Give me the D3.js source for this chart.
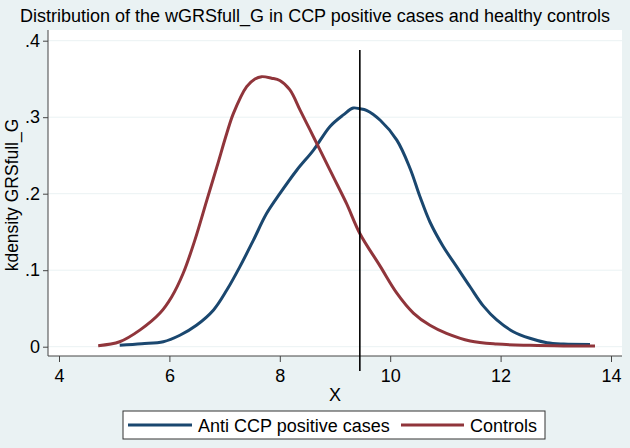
<!DOCTYPE html>
<html><head><meta charset="utf-8">
<script src="https://cdn.jsdelivr.net/npm/d3@7"></script>
<style>
html,body{margin:0;padding:0;background:#eaf2f3;}
text{font-family:"Liberation Sans",Arial,Helvetica,sans-serif;fill:#000;}
</style></head>
<body><svg id="c" width="630" height="448"></svg>
<script>
const title = "Distribution of the wGRSfull_G in CCP positive cases and healthy controls";
const yLabel = "kdensity GRSfull_G";
const xLabel = "X";
const seriesNames = ["Anti CCP positive cases", "Controls"];
const xTicks = [4, 6, 8, 10, 12, 14];
const yTicks = [0, 0.1, 0.2, 0.3, 0.4];
const yTickLabels = ["0", ".1", ".2", ".3", ".4"];
const xLineValue = 9.45;

const casesX = [5.1,5.5,5.89,6.19,6.49,6.8,7.04,7.28,7.52,7.76,8.0,8.31,8.61,8.91,9.15,9.33,9.45,9.57,9.82,10.12,10.36,10.54,10.72,10.96,11.2,11.45,11.69,11.93,12.23,12.53,12.84,13.14,13.62];
const casesY = [0.002,0.004,0.0065,0.015,0.028,0.048,0.074,0.105,0.139,0.174,0.2,0.231,0.257,0.288,0.303,0.312,0.311,0.309,0.296,0.27,0.233,0.196,0.163,0.131,0.105,0.078,0.053,0.035,0.0196,0.011,0.0052,0.0035,0.003];
const controlsX = [4.71,5.1,5.47,5.83,6.04,6.25,6.46,6.68,6.86,7.04,7.16,7.4,7.55,7.67,7.85,8.0,8.18,8.37,8.55,8.73,8.97,9.21,9.45,9.82,10.12,10.42,10.72,11.02,11.45,11.93,12.53,13.14,13.71];
const controlsY = [0.0013,0.0065,0.022,0.044,0.065,0.096,0.139,0.192,0.235,0.279,0.305,0.34,0.35,0.353,0.351,0.348,0.336,0.309,0.283,0.257,0.222,0.187,0.148,0.105,0.07,0.044,0.028,0.0175,0.0075,0.0035,0.0018,0.001,0.0009];

const colors = ["#1a476f", "#90353b"];
const svg = d3.select("#c");
const plot = {left: 48, right: 622, top: 30, bottom: 356};
const x = d3.scaleLinear().domain([4, 14]).range([59, 611]);
const y = d3.scaleLinear().domain([0, 0.4]).range([346.7, 40.7]);

svg.append("rect").attr("width", 630).attr("height", 448).attr("fill", "#eaf2f3");
svg.append("rect").attr("x", plot.left).attr("y", plot.top)
  .attr("width", plot.right - plot.left).attr("height", plot.bottom - plot.top).attr("fill", "#fff");

// gridlines
svg.append("g").selectAll("line").data(yTicks).join("line")
  .attr("x1", plot.left).attr("x2", plot.right)
  .attr("y1", d => y(d)).attr("y2", d => y(d))
  .attr("stroke", "#eaf2f3").attr("stroke-width", 1);

// axes
const yAxis = d3.axisLeft(y).tickValues(yTicks).tickSize(5).tickPadding(3)
  .tickFormat((d, i) => yTickLabels[i]);
const gy = svg.append("g").attr("transform", `translate(${plot.left},0)`).call(yAxis);
gy.select(".domain").attr("d", `M0,${plot.top}V${plot.bottom}`).attr("stroke", "#444");
gy.selectAll(".tick line").attr("stroke", "#444");
gy.selectAll(".tick text").attr("font-size", 18).attr("font-family", "Liberation Sans, Arial, sans-serif");

const xAxis = d3.axisBottom(x).tickValues(xTicks).tickSize(6).tickPadding(7).tickFormat(d3.format("d"));
const gx = svg.append("g").attr("transform", `translate(0,${plot.bottom})`).call(xAxis);
gx.select(".domain").attr("d", `M${plot.left},0H${plot.right}`).attr("stroke", "#444");
gx.selectAll(".tick line").attr("stroke", "#444");
gx.selectAll(".tick text").attr("font-size", 18).attr("font-family", "Liberation Sans, Arial, sans-serif");

// curves
const line = d3.line().x(d => x(d[0])).y(d => y(d[1])).curve(d3.curveCatmullRom.alpha(0.5));
const casesData = casesX.map((v, i) => [v, casesY[i]]);
const controlsData = controlsX.map((v, i) => [v, controlsY[i]]);
svg.append("path").datum(casesData).attr("d", line).attr("fill", "none")
  .attr("stroke", colors[0]).attr("stroke-width", 3).attr("stroke-linejoin", "round");
svg.append("path").datum(controlsData).attr("d", line).attr("fill", "none")
  .attr("stroke", colors[1]).attr("stroke-width", 3).attr("stroke-linejoin", "round");

// vertical line
svg.append("line").attr("x1", x(xLineValue)).attr("x2", x(xLineValue))
  .attr("y1", 50).attr("y2", 371).attr("stroke", "#000").attr("stroke-width", 1.6);

// title and labels
svg.append("text").attr("x", 315).attr("y", 22).attr("text-anchor", "middle")
  .attr("font-size", 18).text(title);
svg.append("text").attr("transform", "translate(18,195) rotate(-90)").attr("text-anchor", "middle")
  .attr("font-size", 17.5).text(yLabel);
svg.append("text").attr("x", (plot.left + plot.right) / 2).attr("y", 401).attr("text-anchor", "middle")
  .attr("font-size", 18).text(xLabel);

// legend
const lg = svg.append("g");
lg.append("rect").attr("x", 123).attr("y", 411).attr("width", 422).attr("height", 28)
  .attr("fill", "#fff").attr("stroke", "#333").attr("stroke-width", 1);
const legendItems = [{x0: 128, x1: 192, tx: 198}, {x0: 401, x1: 464, tx: 470}];
legendItems.forEach((it, i) => {
  lg.append("line").attr("x1", it.x0).attr("x2", it.x1).attr("y1", 425).attr("y2", 425)
    .attr("stroke", colors[i]).attr("stroke-width", 3);
  lg.append("text").attr("x", it.tx).attr("y", 431.5).attr("font-size", 18).text(seriesNames[i]);
});
</script></body></html>
